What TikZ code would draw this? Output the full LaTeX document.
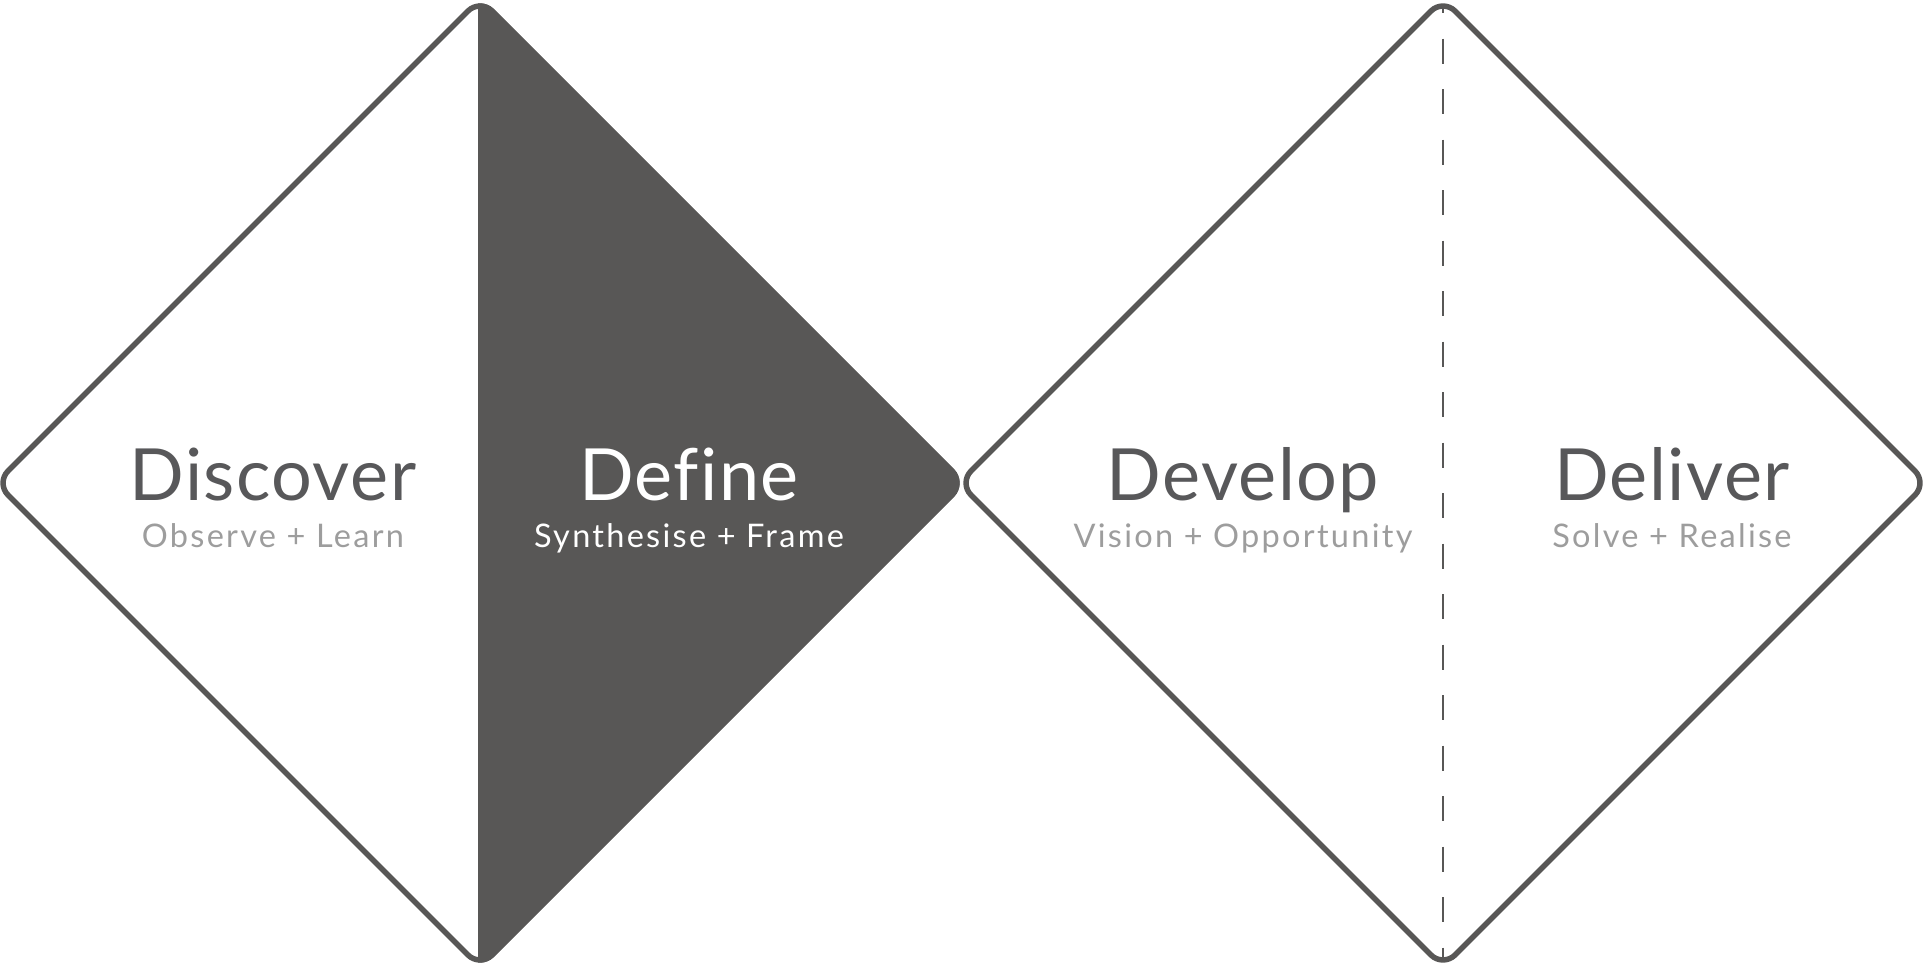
\documentclass[tikz,border=0pt]{standalone}
\usepackage{fontspec}
\setmainfont{Lato}[Ligatures=CommonOff]
\newfontfamily\titlefont{Lato}[Ligatures=CommonOff,LetterSpace=2]
\newfontfamily\subfont{Lato}[Ligatures=CommonOff,LetterSpace=7]
\definecolor{dd}{HTML}{585756}
\definecolor{tt}{HTML}{58585A}
\definecolor{ss}{HTML}{9D9D9D}
\begin{document}
\begin{tikzpicture}[x=1pt,y=-1pt,
  outline/.style={draw=dd,line width=5.5pt,rounded corners=17pt,line join=round},
  ttl/.style={anchor=base,inner sep=0pt,text=tt,font=\titlefont\fontsize{72}{72}\selectfont},
  sub/.style={anchor=base,inner sep=0pt,text=ss,font=\subfont\fontsize{32.5}{32.5}\selectfont},
  divider/.style={draw=dd,line width=2pt,dash pattern=on 25pt off 25.5pt,dash phase=18pt}]
\useasboundingbox (0,0) rectangle (1925,964);
% diamond corner coordinates
\coordinate (T1) at (480,-1);
\coordinate (R1) at (964,483);
\coordinate (B1) at (480,967);
\coordinate (L1) at (-4,483);
\coordinate (T2) at (1443,-1);
\coordinate (R2) at (1927,483);
\coordinate (B2) at (1443,967);
\coordinate (L2) at (959,483);
\coordinate (T2i) at (1443,6);
\coordinate (B2i) at (1443,960);
% Define fill
\begin{scope}
\clip (478,-20) rectangle (1000,1000);
\path[outline,fill=dd] (T1) -- (R1) -- (B1) -- (L1) -- cycle;
\end{scope}
\path[outline] (T1) -- (R1) -- (B1) -- (L1) -- cycle;
\draw[dd,line width=3pt] (480,8) -- (480,958);
\path[outline] (T2) -- (R2) -- (B2) -- (L2) -- cycle;
\path[divider] (T2i) -- (B2i);
% texts
\node[ttl] (discover) at (273,500) {Discover};
\node[sub] (discoversub) at (273,547) {Observe + Learn};
\node[ttl,text=white] (define) at (689,500) {Define};
\node[sub,text=white] (definesub) at (689,547) {Synthesise + Frame};
\node[ttl] (develop) at (1243,500) {Develop};
\node[sub] (developsub) at (1243,547) {Vision + Opportunity};
\node[ttl] (deliver) at (1672,500) {Deliver};
\node[sub] (deliversub) at (1672,547) {Solve + Realise};
\end{tikzpicture}
\end{document}
